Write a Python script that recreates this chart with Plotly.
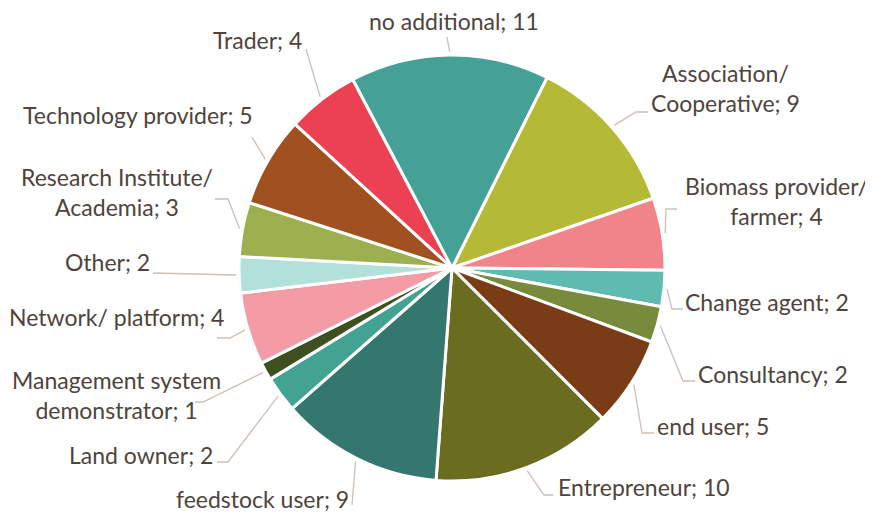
import math
import plotly.graph_objects as go

# page body has an 8px margin: figure is made smaller and axes offset so
# coordinates below are in window pixels
OFF = 8
WIN_W, WIN_H = 873, 512
W, H = WIN_W - OFF, WIN_H - OFF

categories = ["Association/<br>Cooperative", "Biomass provider/<br>farmer", "Change agent",
              "Consultancy", "end user", "Entrepreneur", "feedstock user", "Land owner",
              "Management system<br>demonstrator", "Network/ platform", "Other",
              "Research Institute/<br>Academia", "Technology provider", "Trader", "no additional"]
values = [9, 4, 2, 2, 5, 10, 9, 2, 1, 4, 2, 3, 5, 4, 11]

colors = ["#B4BA35", "#F1838B", "#5FBAB0", "#788A3B", "#7A3B17", "#6A6D20", "#34776E",
          "#42A393", "#3F5020", "#F39CA5", "#B2E0DA", "#9CB04F", "#A0511F", "#EB4152",
          "#45A096"]

# label layout (window-pixel positions of label text centre, leader start, elbow x)
label_layout = [
    (725, 88, 648, 112, 636),
    (776, 201, 677, 209, 666),
    (767, 302, 683, 309, 672),
    (773, 374, 695, 381, 683),
    (713, 426, 654, 433, 642),
    (644, 487, 553, 495, 544),
    (262, 499, 352, 505, None),
    (141, 455, 217, 462, 228),
    (116, 395, 195, 402, 203),
    (116, 317, 217, 338, 230),
    (107, 262, 153, 273, None),
    (117, 192, 215, 199, 228),
    (138, 115, 252, 137, None),
    (257, 40, 306, 49, None),
    (454, 21, 447, 37, None),
]

CX, CY, R = 452, 268, 213
ROT = 26.5
TEXT_COLOR = "#4F433C"
LINE_COLOR = "#CDBFB6"
FONT = "Lato"

fig = go.Figure()

fx, fy = CX - OFF, CY - OFF
fig.add_trace(go.Pie(
    labels=categories, values=values, sort=False, direction="clockwise",
    rotation=ROT, textinfo="none", hoverinfo="label+value",
    marker=dict(colors=colors, line=dict(color="white", width=3)),
    domain=dict(x=[(fx - R) / W, (fx + R) / W], y=[1 - (fy + R) / H, 1 - (fy - R) / H]),
    showlegend=False,
))

total = sum(values)
cum = 0
annotations = []
for cat, v, (tx, ty, sx, sy, ex) in zip(categories, values, label_layout):
    mid = ROT + (cum + v / 2) / total * 360
    cum += v
    a = math.radians(mid)
    px = CX + (R + 3) * math.sin(a)
    py = CY - (R + 3) * math.cos(a)
    xs, ys = [sx], [sy]
    if ex is not None:
        xs.append(ex); ys.append(sy)
    xs.append(px); ys.append(py)
    fig.add_trace(go.Scatter(x=xs, y=ys, mode="lines", line=dict(color=LINE_COLOR, width=1.3),
                             hoverinfo="skip", showlegend=False))
    annotations.append(dict(x=tx, y=ty, xref="x", yref="y", text=f"{cat}; {v}",
                            showarrow=False, xanchor="center", yanchor="middle", align="center",
                            font=dict(family=FONT, size=23, color=TEXT_COLOR)))

fig.update_layout(
    width=W, height=H, margin=dict(l=0, r=0, t=0, b=0),
    paper_bgcolor="white", plot_bgcolor="rgba(0,0,0,0)",
    xaxis=dict(range=[OFF, WIN_W], visible=False, fixedrange=True, domain=[0, 1]),
    yaxis=dict(range=[WIN_H, OFF], visible=False, fixedrange=True, domain=[0, 1]),
    annotations=annotations,
)

fig.write_html("out.html")
